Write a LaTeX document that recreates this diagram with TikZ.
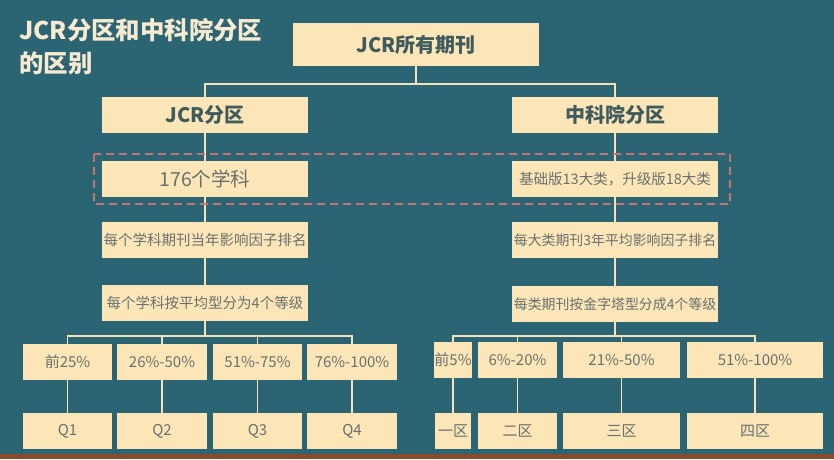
\documentclass[tikz,border=0pt]{standalone}
\usepackage{fontspec}
\setmainfont{Noto Sans CJK SC}
\usetikzlibrary{positioning,calc,backgrounds}
\definecolor{bgTeal}{HTML}{2B6573}
\definecolor{boxCream}{HTML}{FCE6B8}
\definecolor{lineCream}{HTML}{F6E3BC}
\definecolor{headTxt}{HTML}{3F5B5E}
\definecolor{bodyTxt}{HTML}{67716F}
\definecolor{dashRed}{HTML}{C77170}
\definecolor{titleTxt}{HTML}{F7EAD0}
\definecolor{baseBrown}{HTML}{8A4B2C}
\tikzset{
  box/.style  ={rectangle,fill=boxCream,text=bodyTxt,inner sep=0pt,align=center,minimum height=36pt},
  head/.style ={box,text=headTxt,font=\fontsize{20}{22}\selectfont\bfseries},
  mid/.style  ={box,minimum width=206pt,font=\fontsize{14.5}{16}\selectfont},
  midr/.style ={mid,font=\fontsize{13.9}{16}\selectfont},
  grade/.style={box,font=\fontsize{15}{17}\selectfont},
  title/.style={anchor=west,text=titleTxt,inner sep=0pt,font=\fontsize{24.4}{27}\selectfont\bfseries},
  link/.style ={draw=lineCream,line width=1.6pt},
  dashbox/.style={draw=dashRed,line width=1.8pt,dash pattern=on 8pt off 5pt},
}
\begin{document}
\begin{tikzpicture}[x=1pt,y=-1pt]
  \useasboundingbox (0,0) rectangle (834,459);

  % ---- title ----
  \node[title] (t1) at (19,30) {JCR分区和中科院分区};
  \node[title] (t2) at (19,63) {的区别};

  % ---- top ----
  \node[head,minimum width=246pt,minimum height=43pt] (top) at (416,44.5) {JCR所有期刊};

  % ---- LEFT: JCR ----
  \node[head,minimum width=206pt] (jcr) at (205,115) {JCR分区};
  \node[box,minimum width=206pt,font=\fontsize{19.5}{21}\selectfont] (c176) at (205,179) {176个学科};
  \node[mid] (lrank) at (205,240) {每个学科期刊当年影响因子排名};
  \node[mid] (lrule) at (205,303) {每个学科按平均型分为4个等级};
  \node[grade,minimum width=89pt] (p1) at (67.5,362) {前25\%};
  \node[grade,minimum width=90pt] (p2) at (162,362) {26\%-50\%};
  \node[grade,minimum width=89pt] (p3) at (257.5,362) {51\%-75\%};
  \node[grade,minimum width=90pt] (p4) at (352,362) {76\%-100\%};
  \node[grade,minimum width=89pt] (q1) at (67.5,431) {Q1};
  \node[grade,minimum width=90pt] (q2) at (162,431) {Q2};
  \node[grade,minimum width=89pt] (q3) at (257.5,431) {Q3};
  \node[grade,minimum width=90pt] (q4) at (352,431) {Q4};

  % ---- RIGHT: CAS ----
  \node[head,minimum width=206pt] (cas) at (615,115) {中科院分区};
  \node[box,minimum width=206pt,font=\fontsize{14.5}{16}\selectfont] (cbase) at (615,179) {基础版13大类，升级版18大类};
  \node[midr] (rrank) at (615,240) {每大类期刊3年平均影响因子排名};
  \node[midr] (rrule) at (615,304) {每类期刊按金字塔型分成4个等级};
  \node[grade,minimum width=36pt] (r1) at (453,360) {前5\%};
  \node[grade,minimum width=79pt] (r2) at (517.5,360) {6\%-20\%};
  \node[grade,minimum width=117pt] (r3) at (621.5,360) {21\%-50\%};
  \node[grade,minimum width=136pt] (r4) at (755,360) {51\%-100\%};
  \node[grade,minimum width=36pt] (z1) at (453,431) {一区};
  \node[grade,minimum width=79pt] (z2) at (517.5,431) {二区};
  \node[grade,minimum width=117pt] (z3) at (621.5,431) {三区};
  \node[grade,minimum width=136pt] (z4) at (755,431) {四区};

  % dashed frame round the subject row
  \draw[dashbox] (94,154) rectangle (730,204);

  % ---- background + connectors ----
  \begin{pgfonlayer}{background}
    \fill[bgTeal] (0,0) rectangle (834,459);
    \fill[baseBrown] (0,454) rectangle (834,459);
    \draw[link] (top.south) -- ++(0,18) -| (jcr.north);
    \draw[link] (top.south) -- ++(0,18) -| (cas.north);
    \draw[link] (jcr) -- (c176) -- (lrank) -- (lrule);
    \draw[link] (cas) -- (cbase) -- (rrank) -- (rrule);
    \foreach \g/\q in {p1/q1,p2/q2,p3/q3,p4/q4}{
      \draw[link] (lrule.south) -- ++(0,15) -| (\g.north);
      \draw[link] (\g) -- (\q);
    }
    \foreach \g/\q in {r1/z1,r2/z2,r3/z3,r4/z4}{
      \draw[link] (rrule.south) -- ++(0,14) -| (\g.north);
      \draw[link] (\g) -- (\q);
    }
  \end{pgfonlayer}
\end{tikzpicture}
\end{document}
